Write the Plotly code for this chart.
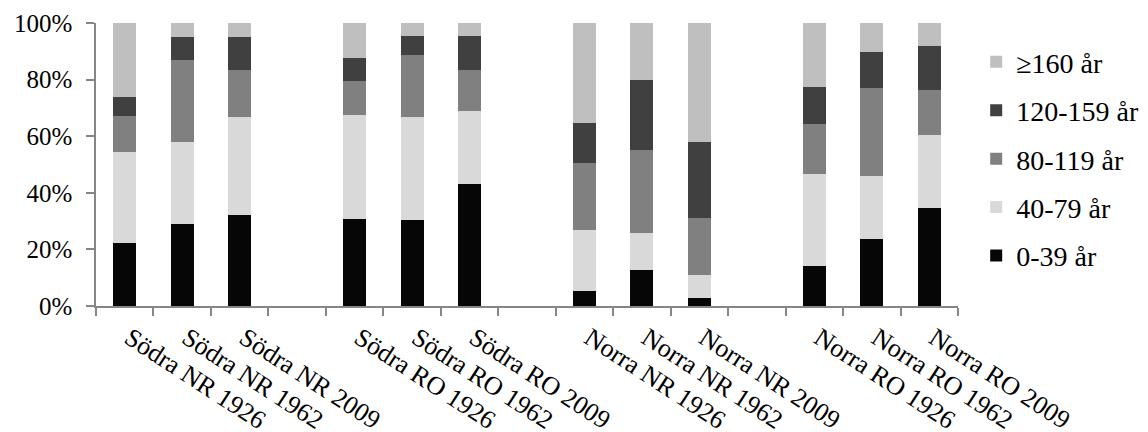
import plotly.graph_objects as go

categories = ["Södra NR 1926", "Södra NR 1962", "Södra NR 2009",
              "Södra RO 1926", "Södra RO 1962", "Södra RO 2009",
              "Norra NR 1926", "Norra NR 1962", "Norra NR 2009",
              "Norra RO 1926", "Norra RO 1962", "Norra RO 2009"]

age_0_39 = [22.1, 28.9, 32.2, 30.6, 30.4, 43.0, 5.2, 12.7, 2.8, 14.2, 23.8, 34.7]
age_40_79 = [32.2, 28.9, 34.5, 36.9, 36.4, 25.9, 21.7, 13.2, 8.0, 32.4, 22.1, 25.7]
age_80_119 = [12.8, 29.1, 16.7, 12.1, 21.9, 14.5, 23.7, 29.1, 20.3, 17.6, 31.1, 15.9]
age_120_159 = [6.6, 8.3, 11.8, 7.9, 6.7, 12.0, 14.1, 24.9, 26.7, 13.2, 12.9, 15.5]
age_160 = [26.3, 4.8, 4.8, 12.5, 4.6, 4.6, 35.3, 20.1, 42.2, 22.6, 10.1, 8.2]

series_names = ["0-39 år", "40-79 år", "80-119 år", "120-159 år", "≥160 år"]
series_values = [age_0_39, age_40_79, age_80_119, age_120_159, age_160]
series_colors = ["#060606", "#d9d9d9", "#808080", "#404040", "#bfbfbf"]

# build axis order with an empty slot after every group of three bars
axis_order = []
gap_count = 0
for i, c in enumerate(categories):
    axis_order.append(c)
    if i % 3 == 2 and i < len(categories) - 1:
        gap_count += 1
        axis_order.append("\u200b" * gap_count)

FONT = "Liberation Serif"

fig = go.Figure()
n = len(series_names)
for k, (name, vals, col) in enumerate(zip(series_names, series_values, series_colors)):
    fig.add_trace(go.Bar(
        x=categories, y=vals, name=name,
        marker=dict(color=col, line=dict(width=0)),
        legendgroup=name, legendrank=n - k,
    ))

# page body has an 8px default margin, so figure is 8px smaller
fig.update_layout(
    barmode="stack",
    bargap=0.6,
    width=1140, height=424,
    margin=dict(l=88, r=190, t=15, b=126, autoexpand=False),
    paper_bgcolor="white", plot_bgcolor="white",
    font=dict(family=FONT, color="#000000", size=25),
    showlegend=True,
    legend=dict(
        x=1.0211, xanchor="left", y=0.95, yanchor="top",
        traceorder="grouped", tracegroupgap=9,
        font=dict(family=FONT, size=28, color="#000000"),
        bgcolor="rgba(0,0,0,0)",
    ),
    xaxis=dict(
        type="category", categoryorder="array", categoryarray=axis_order,
        range=[-0.5, len(axis_order) - 0.5], automargin=False,
        showline=True, linecolor="#868686", linewidth=1.5,
        ticks="outside", tickson="boundaries", ticklen=8, tickcolor="#868686", tickwidth=1.5,
        tickangle=33, tickfont=dict(family=FONT, size=26),
        ticklabelstandoff=5, ticklabelshift=5,
        showgrid=False, zeroline=False,
    ),
    yaxis=dict(
        range=[0, 100], dtick=20, ticksuffix="%", automargin=False,
        showline=True, linecolor="#868686", linewidth=1.5,
        ticks="outside", ticklen=8, tickcolor="#868686", tickwidth=1.5,
        tickfont=dict(family=FONT, size=25), ticklabelstandoff=9,
        showgrid=False, zeroline=False,
    ),
)

fig.write_html("out.html")
